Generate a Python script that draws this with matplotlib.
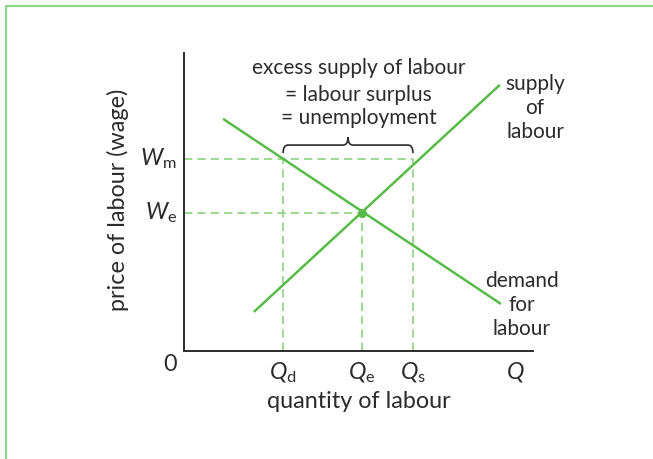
import numpy as np
import matplotlib.pyplot as plt
from matplotlib.path import Path
from matplotlib.patches import PathPatch

plt.rcParams['font.family'] = ['Lato', 'DejaVu Sans']
plt.rcParams['mathtext.fontset'] = 'custom'
plt.rcParams['mathtext.rm'] = 'Lato'
plt.rcParams['mathtext.it'] = 'Lato:italic'

# Curve end points (quantity, wage)
supply_q = [2.0, 9.05]
supply_w = [1.31, 8.93]
demand_q = [1.12, 9.08]
demand_w = [7.79, 1.58]

# Key quantities / wages
q_d, q_e, q_s = 2.84, 5.1, 6.56
w_e, w_m = 4.63, 6.44
q_ticks = [q_d, q_e, q_s, 9.5]
q_labels = [r'$Q_{\rm d}$', r'$Q_{\rm e}$', r'$Q_{\rm s}$', r'$Q$']
w_ticks = [w_m, w_e]
w_labels = [r'$W_{\rm m}$', r'$W_{\rm e}$']

green = '#58bb47'
light_green = '#8fd27f'
ink = '#2b2b2b'
fs = 15
fs_axis = 16.8

fig = plt.figure(figsize=(6.53, 4.59), dpi=100)

# green frame (top and left edges)
frame = fig.add_axes([0, 0, 1, 1])
frame.set_xlim(0, 653)
frame.set_ylim(459, 0)
frame.axis('off')
frame.plot([5.5, 5.5, 653], [459, 5.5, 5.5], color='#8ad888', lw=1.6)

ax = fig.add_axes([184 / 653, (459 - 351) / 459, (533 - 184) / 653, (351 - 53) / 459])
ax.set_xlim(0, 10)
ax.set_ylim(0, 10)
for s in ['top', 'right']:
    ax.spines[s].set_visible(False)
for s in ['left', 'bottom']:
    ax.spines[s].set_color(ink)
    ax.spines[s].set_linewidth(1.4)
ax.set_xticks([])
ax.set_yticks([])
ax.patch.set_alpha(0)

# dashed guides
dash = dict(color=light_green, lw=1.2, ls=(0, (5, 3)))
ax.plot([0, q_s], [w_m, w_m], **dash)
ax.plot([0, q_e], [w_e, w_e], **dash)
ax.plot([q_d, q_d], [0, w_m], **dash)
ax.plot([q_s, q_s], [0, w_m], **dash)
ax.plot([q_e, q_e], [0, w_e], **dash)

# curves
ax.plot(supply_q, supply_w, color=green, lw=1.8, solid_capstyle='butt')
ax.plot(demand_q, demand_w, color=green, lw=1.8, solid_capstyle='butt')
ax.plot([q_e], [w_e], 'o', color=green, ms=5.5)

# brace over the surplus
yb, yh, yt = 6.64, 6.91, 7.18
rx = 0.14
xm = (q_d + q_s) / 2
verts = [(q_d, yb), (q_d, yh), (q_d + rx, yh),
         (xm - rx, yh), (xm, yh), (xm, yt),
         (xm, yh), (xm + rx, yh),
         (q_s - rx, yh), (q_s, yh), (q_s, yb)]
codes = [Path.MOVETO, Path.CURVE3, Path.CURVE3,
         Path.LINETO, Path.CURVE3, Path.CURVE3,
         Path.CURVE3, Path.CURVE3,
         Path.LINETO, Path.CURVE3, Path.CURVE3]
ax.add_patch(PathPatch(Path(verts, codes), fill=False, color=ink, lw=1.2, clip_on=False))

txt = dict(color=ink, clip_on=False)
ax.text(5.0, 9.5, 'excess supply of labour', ha='center', va='center', fontsize=fs, **txt)
ax.text(5.0, 8.59, '= labour surplus', ha='center', va='center', fontsize=fs, **txt)
ax.text(5.0, 7.82, '= unemployment', ha='center', va='center', fontsize=fs, **txt)
ax.text(10.06, 8.16, 'supply\nof\nlabour', ha='center', va='center', linespacing=1.25,
        fontsize=fs, **txt)
ax.text(9.68, 1.54, 'demand\nfor\nlabour', ha='center', va='center', linespacing=1.25,
        fontsize=fs, **txt)
ax.text(5.0, -1.7, 'quantity of labour', ha='center', va='center', fontsize=fs_axis, **txt)
ax.text(-1.9, 5.07, 'price of labour (wage)', ha='center', va='center', rotation=90,
        fontsize=fs_axis, **txt)
ax.text(-0.4, -0.45, '0', ha='center', va='center', fontsize=fs_axis, **txt)

for q, lab in zip(q_ticks, q_labels):
    ax.text(q, -0.72, lab, ha='center', va='center', fontsize=fs_axis, **txt)
for w, lab in zip(w_ticks, w_labels):
    ax.text(-0.2, w, lab, ha='right', va='center', fontsize=fs_axis, **txt)

fig.savefig('out.png', dpi=100)
